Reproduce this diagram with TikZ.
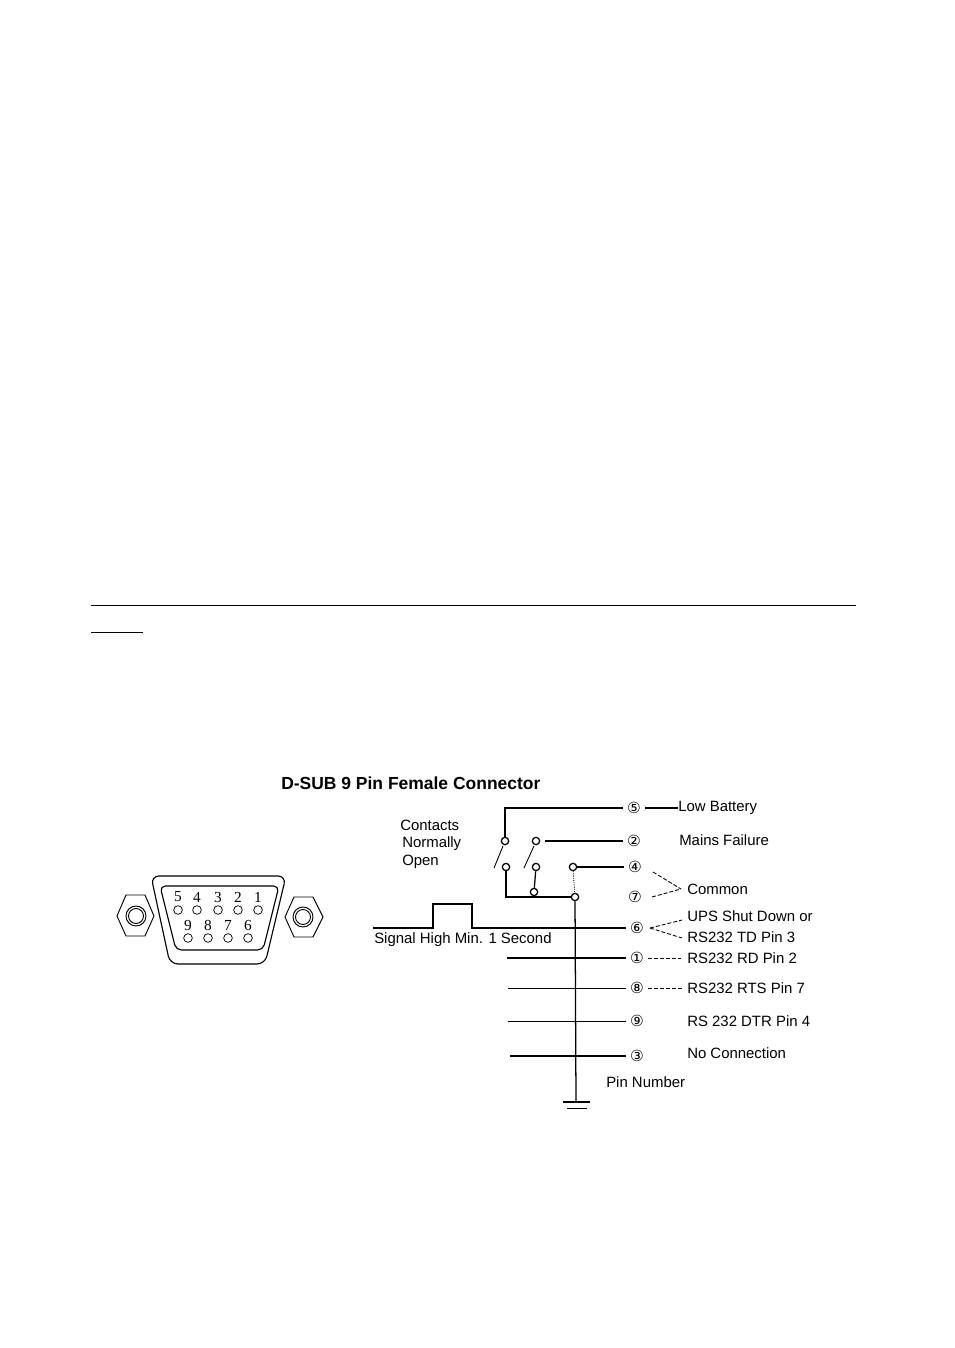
\documentclass[tikz,border=0pt]{standalone}
\usepackage{fontspec}
\setmainfont{Liberation Sans}
\newfontfamily\pinfont{DejaVu Sans}
\newfontfamily\numfont{Liberation Serif}
\tikzset{
  rulel/.style={line width=0.75pt},
  wire/.style={line width=0.95pt,line cap=butt},
  thinwire/.style={line width=0.65pt},
  dashwire/.style={line width=0.65pt,dash pattern=on 3pt off 1.5pt},
  lbl/.style={anchor=west,inner sep=0pt,font=\fontsize{11.2}{13}\selectfont},
  pin/.style={inner sep=3pt,font=\pinfont\fontsize{11.5}{12}\selectfont},
  contact/.style={circle,draw,line width=0.95pt,fill=white,minimum size=5.5pt,inner sep=0pt},
  hole/.style={circle,draw,line width=0.55pt,minimum size=6.5pt,inner sep=0pt},
  digit/.style={inner sep=0pt,font=\numfont\fontsize{11.5}{12}\selectfont},
  shell/.style={line width=0.85pt,rounded corners=6pt}
}
\begin{document}
\begin{tikzpicture}[x=0.75pt,y=-0.75pt]
\useasboundingbox (0,0) rectangle (954,1348);
\fill[white] (0,0) rectangle (954,1348);
% page rules
\coordinate (r1a) at (91,605); \coordinate (r1b) at (856,605);
\coordinate (r2a) at (91,632); \coordinate (r2b) at (143,632);
\draw[rulel] (r1a) -- (r1b);
\draw[rulel] (r2a) -- (r2b);
% title
\node[anchor=west,inner sep=0pt,font=\bfseries\fontsize{13.1}{15}\selectfont] (title) at (281,783) {D-SUB 9 Pin Female Connector};
% D-sub connector
\draw[line width=0.7pt] (117,916) -- (126,895) -- (145,895) -- (154,916) -- (145,936) -- (126,936) -- cycle;
\draw[line width=0.7pt] (285,917) -- (294,897) -- (313,897) -- (323,917) -- (313,937) -- (294,937) -- cycle;
\draw[line width=0.7pt] (136,916) circle[radius=10];
\draw[line width=0.7pt] (136,916) circle[radius=7.5];
\draw[line width=0.7pt] (303,917) circle[radius=10];
\draw[line width=0.7pt] (303,917) circle[radius=7.5];
\draw[shell] (151,876) -- (286,876) -- (265,964) -- (170,964) -- cycle;
\draw[shell,rounded corners=4pt] (160,886) -- (279,886) -- (263,950) -- (176,950) -- cycle;
\foreach \d/\x in {5/178,4/197,3/218,2/238,1/258}{
  \node[digit] (d\d) at (\x,897) {\d};
  \node[hole] (h\d) at (\x,910) {};
}
\foreach \d/\x in {9/188,8/208,7/228,6/248}{
  \node[digit] (d\d) at (\x,925) {\d};
  \node[hole] (h\d) at (\x,938) {};
}
% pin numbers
\node[pin] (p5) at (634,808) {⑤};
\node[pin] (p2) at (634,841) {②};
\node[pin] (p4) at (635,867) {④};
\node[pin] (p7) at (635,897) {⑦};
\node[pin] (p6) at (637,928) {⑥};
\node[pin] (p1) at (637,958) {①};
\node[pin] (p8) at (637,988) {⑧};
\node[pin] (p9) at (637,1021) {⑨};
\node[pin] (p3) at (637,1056) {③};
% labels
\node[lbl] (lowbat) at (678,808) {Low Battery};
\node[lbl] (mains) at (679,840) {Mains Failure};
\node[lbl] (common) at (687,889) {Common};
\node[lbl] (ups) at (687,916) {UPS Shut Down or};
\node[lbl] (td) at (687,937) {RS232 TD Pin 3};
\node[lbl] (rd) at (687,958) {RS232 RD Pin 2};
\node[lbl] (rts) at (687,988) {RS232 RTS Pin 7};
\node[lbl] (dtr) at (687,1021) {RS 232 DTR Pin 4};
\node[lbl] (nc) at (687,1053) {No Connection};
\node[lbl] (pinnum) at (606,1082) {Pin Number};
\node[lbl] (sig) at (374,940) {Signal High Min. 1 Second};
\node[lbl] (c1) at (400,825) {Contacts};
\node[lbl] (c2) at (402,844) {Normally};
\node[lbl] (c3) at (402,862) {Open};
% contacts
\node[contact] (k1) at (505,841) {};
\node[contact] (k2) at (536,841) {};
\node[contact] (k3) at (506,867) {};
\node[contact] (k4) at (536,867) {};
\node[contact] (k5) at (573,867) {};
\node[contact] (k6) at (534,892) {};
\node[contact] (k7) at (575,897) {};
% switch wiring
\coordinate (t5) at (505,808);
\draw[wire] (k1) -- (t5) -- (p5.west);
\coordinate (s2) at (545,841);
\draw[wire] (s2) -- (p2.west);
\draw[wire] (k5) -- (p4.west);
\coordinate (b1) at (494,868); \coordinate (b1e) at (503,846);
\coordinate (b2) at (524,868); \coordinate (b2e) at (534,846);
\draw[thinwire] (b1) -- (b1e);
\draw[thinwire] (b2) -- (b2e);
\coordinate (cn) at (506,897);
\draw[wire] (k3) -- (cn) -- (k7.west);
\draw[wire] (k4) -- (k6);
\draw[thinwire,densely dotted] (k5) -- (k7);
% signal pulse
\coordinate (s0) at (373,928); \coordinate (s1) at (433,928);
\coordinate (s3) at (433,904); \coordinate (s4) at (472,904);
\coordinate (s5) at (472,928);
\draw[wire] (s0) -- (s1) -- (s3) -- (s4) -- (s5) -- (p6.west);
% pin lines
\coordinate (w1) at (507,958); \coordinate (w8) at (508,988);
\coordinate (w9) at (508,1021); \coordinate (w3) at (510,1056);
\draw[wire] (w1) -- (p1.west);
\draw[thinwire] (w8) -- (p8.west);
\draw[thinwire] (w9) -- (p9.west);
\draw[wire,line width=1.1pt] (w3) -- (p3.west);
% bus and ground
\coordinate (g) at (576,1102);
\coordinate (ga) at (563,1102); \coordinate (gb) at (590,1102);
\coordinate (gc) at (567,1108); \coordinate (gd) at (587,1108);
\draw[wire] (k7) -- (g);
\draw[wire] (ga) -- (gb);
\draw[thinwire] (gc) -- (gd);
% leaders
\draw[wire] (p5.east) -- (lowbat.west);
\coordinate (ld) at (681,958);
\coordinate (lr) at (684,988);
\draw[dashwire] (p1.east) -- (ld);
\draw[dashwire] (p8.east) -- (lr);
\coordinate (l4) at (653,872);
\coordinate (l7) at (652,897);
\coordinate (lc) at (681,889);
\draw[dashwire] (l4) -- (lc);
\draw[dashwire] (l7) -- (lc);
\coordinate (l6) at (650,928);
\coordinate (lu) at (682,920);
\coordinate (lt) at (682,938);
\draw[dashwire] (l6) -- (lu);
\draw[dashwire] (l6) -- (lt);
\end{tikzpicture}
\end{document}
